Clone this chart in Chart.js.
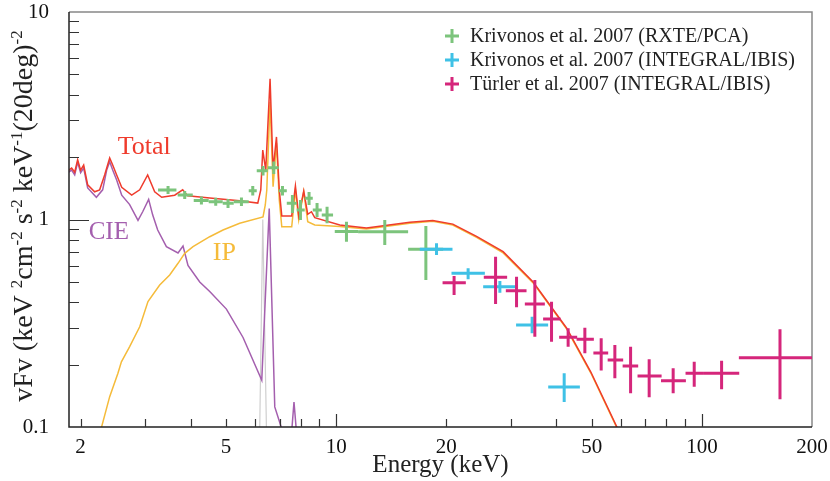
<!DOCTYPE html>
<html><head><meta charset="utf-8">
<script src="https://cdn.jsdelivr.net/npm/chart.js@4.4.0/dist/chart.umd.min.js"></script>
<style>html,body{margin:0;padding:0;background:#fff;}#wrap{width:830px;height:481px;}</style>
</head><body><div id="wrap"><canvas id="c" width="830" height="481"></canvas></div>
<script>
// ---- axis ticks ----
const xTicks = [2,5,10,20,50,100,200];
const yTicks = [0.1,1,10];

// ---- model curves (Energy keV, vFv) ----
const totalE = [1.857,1.891,1.928,1.964,2.001,2.040,2.092,2.186,2.256,2.328,2.403,2.449,2.511,2.592,2.760,2.903,3.052,3.190,3.334,3.618,3.805,3.927,4.511,5.448,6.105,6.221,6.299,6.419,6.596,6.722,6.867,6.990,7.101,7.559,7.737,7.900,8.153,8.361,8.558,8.740,10.23,12.10,15.90,18.37,20.84,24.20,28.61,34.56,42.65,49.70,58.56,61.58];
const totalV = [1.73,1.77,1.69,1.94,1.73,1.83,1.47,1.36,1.39,1.64,1.98,1.83,1.64,1.43,1.31,1.39,1.64,1.36,1.28,1.31,1.39,1.30,1.27,1.23,1.20,1.39,2.16,1.73,4.76,1.73,2.50,1.39,1.04,1.04,1.45,1.04,1.37,1.06,1.09,1.02,0.94,0.91,0.97,0.99,0.95,0.83,0.70,0.50,0.30,0.184,0.100,0.082];

const cieE = [1.857,1.891,1.928,1.964,2.001,2.040,2.092,2.210,2.299,2.358,2.403,2.449,2.511,2.592,2.725,2.872,2.958,3.071,3.151,3.251,3.434,3.695,3.813,3.934,4.236,4.511,5.011,5.564,6.26,6.561,6.794,7.087,7.19,7.45,7.50,7.668,7.85,8.0];
const cieV = [1.69,1.73,1.64,1.89,1.68,1.77,1.42,1.28,1.39,1.73,1.90,1.73,1.55,1.31,1.18,0.99,1.09,1.25,1.05,0.89,0.74,0.69,0.745,0.60,0.50,0.45,0.37,0.27,0.168,1.13,0.125,0.099,0.087,0.07,0.08,0.132,0.08,0.06];

const ipE = [2.228,2.280,2.403,2.531,2.587,2.725,2.903,3.058,3.292,3.506,3.695,3.854,4.061,4.511,4.905,5.448,6.310,6.400,6.461,6.596,6.722,6.867,6.990,7.101,7.559,7.737,7.900,8.153,8.361,8.740,10.23,12.10,15.90,18.37,20.84,24.20,28.61,34.56,42.65,49.70,58.56,61.58];
const ipV = [0.082,0.099,0.140,0.1815,0.206,0.244,0.304,0.402,0.483,0.540,0.615,0.687,0.740,0.826,0.890,0.959,1.028,1.175,1.387,3.696,1.439,2.337,1.242,0.923,0.923,1.387,0.994,1.361,0.976,0.941,0.925,0.90,0.96,0.98,0.94,0.82,0.69,0.495,0.297,0.182,0.099,0.081];

const lineE = [6.17,6.30,6.46];
const lineV = [0.08,1.0,0.08];

// ---- data points with error bars ----
const pcaE   = [3.47,3.854,4.281,4.685,5.062,5.508,5.915,6.310,6.751,7.132,7.593,7.987,8.431,8.866,9.443,10.67,13.58,17.59];
const pcaElo = [3.258,3.687,4.079,4.482,4.896,5.247,5.767,6.065,6.501,6.966,7.328,7.800,8.204,8.630,9.133,9.912,11.48,15.73];
const pcaEhi = [3.658,4.054,4.482,4.896,5.247,5.767,6.065,6.501,6.966,7.328,7.800,8.204,8.630,9.133,9.806,11.48,15.73,19.61];
const pcaV   = [1.387,1.313,1.235,1.218,1.197,1.218,1.377,1.719,1.777,1.377,1.197,1.111,1.265,1.111,1.051,0.875,0.873,0.718];
const pcaVlo = [1.327,1.255,1.181,1.166,1.136,1.162,1.305,1.629,1.657,1.305,1.075,0.994,1.175,1.028,0.959,0.782,0.754,0.511];
const pcaVhi = [1.449,1.372,1.291,1.274,1.255,1.276,1.450,1.811,1.903,1.450,1.313,1.242,1.357,1.201,1.153,0.976,0.994,0.930];

const ibisKE   = [18.81,22.95,28.03,34.34,42.02];
const ibisKElo = [16.93,20.67,25.23,31.04,38.0];
const ibisKEhi = [20.80,25.50,31.13,37.98,46.38];
const ibisKV   = [0.718,0.550,0.4745,0.310,0.156];
const ibisKVlo = [0.674,0.515,0.444,0.283,0.132];
const ibisKVhi = [0.768,0.582,0.505,0.340,0.1815];

const ibisTE   = [21.01,27.28,31.13,34.93,38.80,43.08,47.86,53.04,57.81,63.83,71.75,83.45,95.28,113.2,163.5];
const ibisTElo = [19.54,25.33,29.10,32.80,36.80,40.71,45.43,50.50,55.25,60.71,66.68,77.3,90.21,101.3,126.2];
const ibisTEhi = [22.62,29.34,33.15,37.20,41.07,45.60,50.65,55.43,60.92,66.96,77.59,90.41,101.3,126.5,201.6];
const ibisTV   = [0.496,0.527,0.454,0.3915,0.3315,0.2706,0.2647,0.2273,0.2103,0.1968,0.1761,0.1671,0.1815,0.1815,0.2158];
const ibisTVlo = [0.4327,0.3915,0.3775,0.2723,0.2577,0.2438,0.2265,0.1872,0.1716,0.1453,0.139,0.1453,0.1564,0.152,0.136];
const ibisTVhi = [0.534,0.662,0.530,0.511,0.4016,0.299,0.301,0.2676,0.2484,0.2438,0.212,0.1918,0.2064,0.2087,0.2957];

const legendLabels = ['Krivonos et al. 2007 (RXTE/PCA)','Krivonos et al. 2007 (INTEGRAL/IBIS)','Türler et al. 2007 (INTEGRAL/IBIS)'];

const SERIF = '"Liberation Serif","DejaVu Serif",serif';
const C_TOTAL='#ef3b2c', C_CIE='#a45fae', C_IP='#f5bb3a', C_LINE='#cfcfcf';
const C_PCA='#7cc47c', C_IBK='#3fc1e6', C_IBT='#d5267b';

function curve(E,V){return E.map((e,i)=>({x:e,y:V[i]}));}
function pts(E,V,Elo,Ehi,Vlo,Vhi){return E.map((e,i)=>({x:e,y:V[i],xMin:Elo[i],xMax:Ehi[i],yMin:Vlo[i],yMax:Vhi[i]}));}

const framePlugin = {
  id:'frame',
  afterDatasetsDraw(chart){
    const {ctx, chartArea:a, scales:{x,y}} = chart;
    ctx.save();
    ctx.lineWidth=1.5;
    ctx.strokeStyle='#888';
    ctx.beginPath(); ctx.moveTo(a.left,a.top); ctx.lineTo(a.right,a.top); ctx.lineTo(a.right,a.bottom); ctx.stroke();
    ctx.strokeStyle='#222';
    ctx.beginPath(); ctx.moveTo(a.left,a.top); ctx.lineTo(a.left,a.bottom); ctx.lineTo(a.right,a.bottom); ctx.stroke();
    ctx.lineWidth=1.2; ctx.strokeStyle='#333';
    ctx.beginPath();
    [0.1,1].forEach(d=>{for(let k=2;k<=9;k++){const py=Math.round(y.getPixelForValue(k*d))+0.5;ctx.moveTo(a.left,py);ctx.lineTo(a.left+10,py);}});
    {const py=Math.round(y.getPixelForValue(1))+0.5; ctx.moveTo(a.left,py); ctx.lineTo(a.left+20,py);}
    [1,10,100].forEach(d=>{for(let k=1;k<=9;k++){const v=k*d; if(v<x.min||v>=x.max) continue; const px=Math.round(x.getPixelForValue(v))+0.5; const L=(k===1)?13:8; ctx.moveTo(px,a.bottom); ctx.lineTo(px,a.bottom-L);}});
    ctx.stroke();
    ctx.restore();
  }
};

const errPlugin = {
  id:'errbars',
  afterDatasetsDraw(chart){
    const {ctx, chartArea:a, scales:{x,y}} = chart;
    ctx.save();
    ctx.beginPath(); ctx.rect(a.left,a.top,a.right-a.left,a.bottom-a.top); ctx.clip();
    ctx.lineCap='butt';
    chart.data.datasets.forEach(ds=>{
      if(!ds.errorBars) return;
      ctx.strokeStyle=ds.errColor; ctx.lineWidth=ds.errWidth;
      ds.data.forEach(p=>{
        const px=x.getPixelForValue(p.x), py=y.getPixelForValue(p.y);
        ctx.beginPath();
        ctx.moveTo(x.getPixelForValue(p.xMin),py); ctx.lineTo(x.getPixelForValue(p.xMax),py);
        ctx.moveTo(px,y.getPixelForValue(p.yMin)); ctx.lineTo(px,y.getPixelForValue(p.yMax));
        ctx.stroke();
      });
    });
    ctx.restore();
  }
};

const textPlugin = {
  id:'texts',
  afterDraw(chart){
    const {ctx, scales:{x,y}} = chart;
    ctx.save();
    ctx.textBaseline='middle'; ctx.textAlign='left';
    // curve labels
    ctx.font='26px '+SERIF; ctx.fillStyle=C_TOTAL; ctx.fillText('Total', x.getPixelForValue(2.527), y.getPixelForValue(2.236));
    ctx.font='25px '+SERIF; ctx.fillStyle=C_CIE; ctx.fillText('CIE', x.getPixelForValue(2.105), y.getPixelForValue(0.871));
    ctx.font='26px '+SERIF; ctx.fillStyle=C_IP; ctx.fillText('IP', x.getPixelForValue(4.597), y.getPixelForValue(0.690));
    // legend
    const cols=[C_PCA,C_IBK,C_IBT]; const rows=[36,60,84];
    ctx.font='20px '+SERIF;
    legendLabels.forEach((t,i)=>{
      ctx.strokeStyle=cols[i]; ctx.lineWidth=3;
      ctx.beginPath(); ctx.moveTo(445,rows[i]); ctx.lineTo(459,rows[i]); ctx.moveTo(452,rows[i]-7); ctx.lineTo(452,rows[i]+7); ctx.stroke();
      ctx.fillStyle='#222'; ctx.fillText(t,470,rows[i]+1);
    });
    // y title with superscripts
    const parts=[['vFv (keV ',0],['2',1],['cm',0],['-2',1],[' s',0],['-2',1],[' keV',0],['-1',1],['(20deg)',0],['-2',1]];
    const mainF='28px '+SERIF, supF='17px '+SERIF;
    let W=0; parts.forEach(p=>{ctx.font=p[1]?supF:mainF; W+=ctx.measureText(p[0]).width;});
    ctx.translate(23,216); ctx.rotate(-Math.PI/2);
    let cx=-W/2; ctx.fillStyle='#222'; ctx.textBaseline='alphabetic';
    parts.forEach(p=>{ctx.font=p[1]?supF:mainF; ctx.fillText(p[0],cx,p[1]?-1:9); cx+=ctx.measureText(p[0]).width;});
    ctx.restore();
  }
};

new Chart(document.getElementById('c').getContext('2d'), {
  type:'line',
  data:{datasets:[
    {label:'Total', data:curve(totalE,totalV), borderColor:C_TOTAL, borderWidth:1.5, pointRadius:0, order:1},
    {label:'IP', data:curve(ipE,ipV), borderColor:C_IP, borderWidth:1.5, pointRadius:0, order:2},
    {label:'CIE', data:curve(cieE,cieV), borderColor:C_CIE, borderWidth:1.5, pointRadius:0, order:3},
    {label:'6.4 keV line', data:curve(lineE,lineV), borderColor:C_LINE, borderWidth:1.2, pointRadius:0, order:4},
    {label:legendLabels[0], type:'scatter', data:pts(pcaE,pcaV,pcaElo,pcaEhi,pcaVlo,pcaVhi), pointRadius:0, showLine:false, errorBars:true, errColor:C_PCA, errWidth:3},
    {label:legendLabels[1], type:'scatter', data:pts(ibisKE,ibisKV,ibisKElo,ibisKEhi,ibisKVlo,ibisKVhi), pointRadius:0, showLine:false, errorBars:true, errColor:C_IBK, errWidth:3},
    {label:legendLabels[2], type:'scatter', data:pts(ibisTE,ibisTV,ibisTElo,ibisTEhi,ibisTVlo,ibisTVhi), pointRadius:0, showLine:false, errorBars:true, errColor:C_IBT, errWidth:3}
  ]},
  options:{
    responsive:false, animation:false, devicePixelRatio:1,
    layout:{padding:{left:0,right:18,top:12,bottom:0}},
    plugins:{legend:{display:false}, tooltip:{enabled:false}},
    scales:{
      x:{type:'logarithmic', min:1.86, max:200,
        grid:{display:false}, border:{display:false},
        afterBuildTicks:s=>{s.ticks=xTicks.map(v=>({value:v}));},
        afterFit:s=>{s.height=54; s.paddingLeft=0; s.paddingRight=0;},
        ticks:{autoSkip:false, maxRotation:0, minRotation:0, padding:2, color:'#111', font:{family:SERIF,size:21,lineHeight:1}, callback:v=>String(v)},
        title:{display:true, text:'Energy (keV)', color:'#222', font:{family:SERIF,size:25,lineHeight:1.2}, padding:{top:0,bottom:1}}
      },
      y:{type:'logarithmic', min:0.1, max:10,
        grid:{display:false}, border:{display:false},
        afterBuildTicks:s=>{s.ticks=yTicks.map(v=>({value:v}));},
        afterFit:s=>{s.width=69; s.paddingTop=0; s.paddingBottom=0;},
        ticks:{autoSkip:false, padding:12, color:'#111', font:{family:SERIF,size:21,lineHeight:1}, callback:v=>String(v)}
      }
    }
  },
  plugins:[framePlugin, errPlugin, textPlugin]
});
</script></body></html>
